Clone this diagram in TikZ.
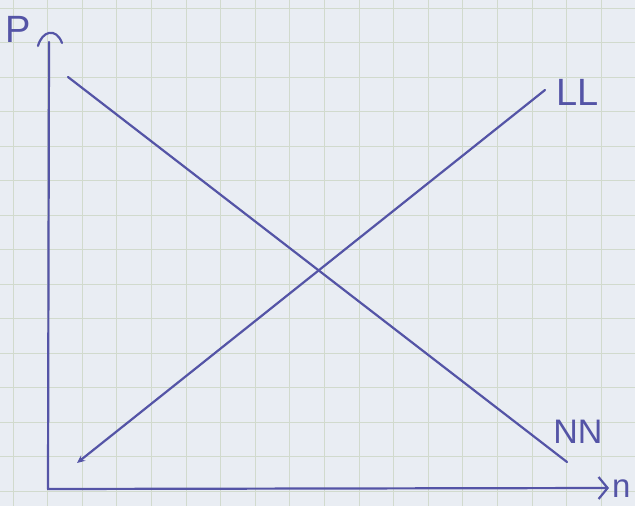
\documentclass[tikz,border=0pt]{standalone}
\usepackage{fontspec}
\setmainfont{Liberation Sans}
\usetikzlibrary{arrows.meta}
\definecolor{paper}{RGB}{233,237,243}
\definecolor{gridc}{RGB}{209,218,205}
\definecolor{ink}{RGB}{84,84,166}
\begin{document}
\begin{tikzpicture}[x=1pt,y=-1pt,
  inkline/.style={draw=ink, line width=2.2pt, line cap=round, line join=round},
  gridline/.style={draw=gridc, line width=1pt},
  lbl/.style={text=ink, inner sep=0pt, font=\fontsize{38}{38}\selectfont}]
\fill[paper] (0,0) rectangle (635,506);
\useasboundingbox (0,0) rectangle (635,506);
% grid paper
\foreach \i in {0,...,18} \draw[gridline] ({13+34.6*\i},0) -- ({13+34.6*\i},506);
\foreach \j in {0,...,14} \draw[gridline] (0,{8+34.5*\j}) -- (635,{8+34.5*\j});
% coordinates
\coordinate (Ytop) at (49,42);
\coordinate (O) at (48,489);
\coordinate (Xend) at (609,488);
\coordinate (NNa) at (68,77);
\coordinate (NNb) at (567,462);
\coordinate (LLa) at (545,90);
\coordinate (LLb) at (77,463);
% axes
\draw[inkline, -{Straight Barb[length=9pt,width=22pt]}] (Ytop) -- (O) -- (Xend);
\draw[inkline] (38,46) .. controls (42,31) and (56,27) .. (62,43);
% curves
\draw[inkline] (NNa) -- (NNb);
\draw[inkline, -{Stealth[length=8pt,width=7pt]}] (LLa) -- (LLb);
% labels
\node[lbl, anchor=base] (P) at (18,42) {P};
\node[lbl, anchor=base] (LL) at (578,105) {LL};
\node[lbl, anchor=base, font=\fontsize{34}{34}\selectfont] (NN) at (578,443) {NN};
\node[lbl, anchor=base west, font=\fontsize{33}{33}\selectfont] (n) at (612,497) {n};
\end{tikzpicture}
\end{document}
